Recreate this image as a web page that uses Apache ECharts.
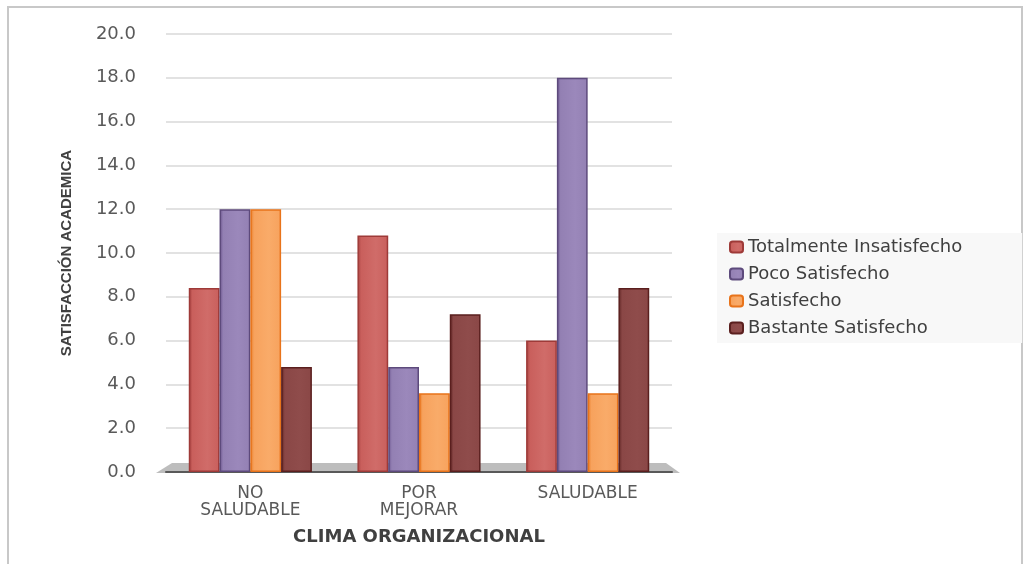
<!DOCTYPE html>
<html>
<head>
<meta charset="utf-8">
<script src="https://cdn.jsdelivr.net/npm/echarts@6/dist/echarts.min.js"></script>
<style>
	html, body { margin: 0; padding: 0; background: #fff; }
	#zoom { width: 1027px; height: 564px; }
</style>
</head>
<body>
<div id="zoom"></div>
<script>
	// categorias y series
	const categories = ['NO\nSALUDABLE', 'POR\nMEJORAR', 'SALUDABLE']
	const totalmenteInsatisfecho = [8.4, 10.8, 6.0]
	const pocoSatisfecho = [12.0, 4.8, 18.0]
	const satisfecho = [12.0, 3.6, 3.6]
	const bastanteSatisfecho = [4.8, 7.2, 8.4]
	const yTicks = { min: 0, max: 20, interval: 2 }

	const GRID_LEFT = 166
	const GRID_RIGHT = 355
	const GRID_TOP = 34
	const GRID_BOTTOM = 92
	const W = 1027, H = 564
	const floorY = H - GRID_BOTTOM

	const font = 'DejaVu Sans'

	// degradado para simular barras 3d
	const barFill = (dark, mid, light) => new echarts.graphic.LinearGradient(0, 0, 1, 0, [
		{ offset: 0, color: dark },
		{ offset: 0.12, color: mid },
		{ offset: 0.6, color: light },
		{ offset: 1, color: mid }
	])

	const makeSeries = (name, data, dark, mid, light, border) => ({
		name: name,
		type: 'bar',
		data: data,
		barGap: '0%',
		barCategoryGap: '27%',
		z: 3,
		itemStyle: {
			color: barFill(dark, mid, light),
			borderColor: border,
			borderWidth: 1.5
		}
	})

	let myChart = echarts.init(document.getElementById('zoom'))

	const option = {
		animation: false,
		backgroundColor: '#fff',
		grid: {
			left: GRID_LEFT,
			right: GRID_RIGHT,
			top: GRID_TOP,
			bottom: GRID_BOTTOM,
			containLabel: false
		},
		legend: {
			orient: 'vertical',
			left: 717,
			top: 233,
			itemWidth: 13,
			itemHeight: 11,
			itemGap: 9,
			backgroundColor: '#f8f8f8',
			padding: [5, 60, 6, 12],
			textStyle: { color: '#404040', fontSize: 18, fontFamily: font },
			data: ['Totalmente Insatisfecho', 'Poco Satisfecho', 'Satisfecho', 'Bastante Satisfecho']
		},
		xAxis: {
			type: 'category',
			data: categories,
			name: 'CLIMA ORGANIZACIONAL',
			nameLocation: 'middle',
			nameGap: 56,
			nameTextStyle: { color: '#404040', fontSize: 18, fontWeight: 'bold', fontFamily: font },
			axisLine: { lineStyle: { color: '#595959', width: 2 } },
			axisTick: { show: false },
			axisLabel: {
				color: '#595959',
				fontSize: 17,
				fontFamily: font,
				lineHeight: 17,
				margin: 13
			}
		},
		yAxis: {
			type: 'value',
			min: yTicks.min,
			max: yTicks.max,
			interval: yTicks.interval,
			name: 'SATISFACCIÓN ACADEMICA',
			nameLocation: 'middle',
			nameGap: 92,
			nameTextStyle: { color: '#404040', fontSize: 15, fontWeight: 'bold', fontFamily: 'Liberation Sans' },
			axisLine: { show: false },
			axisTick: { show: false },
			axisLabel: {
				color: '#595959',
				fontSize: 18,
				fontFamily: font,
				margin: 30,
				formatter: v => v.toFixed(1)
			},
			splitLine: { lineStyle: { color: '#d9d9d9', width: 1.5 } }
		},
		graphic: [
			// marco exterior
			{
				type: 'rect',
				z: -10,
				shape: { x: 8, y: 7, width: 1014, height: 570 },
				style: { fill: 'none', stroke: '#c8c8c8', lineWidth: 2 }
			},
			// piso gris
			{
				type: 'polygon',
				z: 0,
				shape: {
					points: [
						[GRID_LEFT - 10, floorY + 1],
						[W - GRID_RIGHT + 8, floorY + 1],
						[W - GRID_RIGHT - 6, floorY - 9],
						[GRID_LEFT + 6, floorY - 9]
					]
				},
				style: { fill: '#bdbdbd' }
			}
		],
		series: [
			makeSeries('Totalmente Insatisfecho', totalmenteInsatisfecho, '#a5413f', '#c95f5c', '#d06c69', '#9e3a38'),
			makeSeries('Poco Satisfecho', pocoSatisfecho, '#6c5690', '#9380b3', '#9b88bb', '#5d4a7c'),
			makeSeries('Satisfecho', satisfecho, '#e87b25', '#f7a25d', '#f9ab69', '#e8731a'),
			makeSeries('Bastante Satisfecho', bastanteSatisfecho, '#5e2423', '#8a4746', '#8f4c4b', '#5a1f1e')
		]
	}

	myChart.setOption(option)
</script>
</body>
</html>
